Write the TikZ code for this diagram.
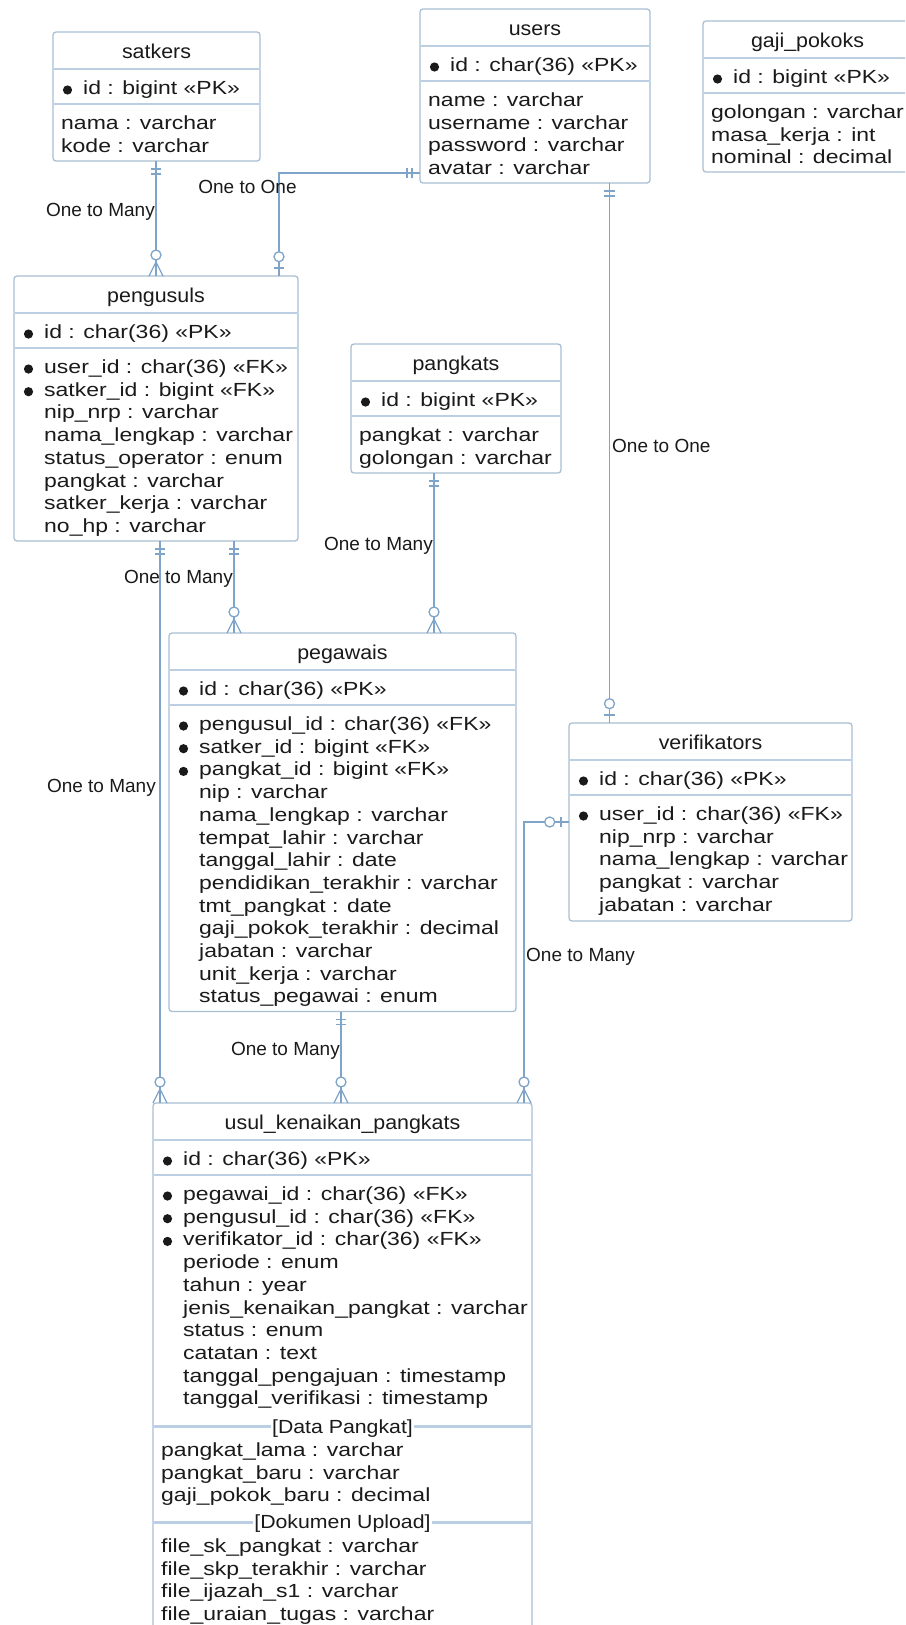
\documentclass[tikz,border=0pt]{standalone}
\usepackage{fontspec}
\setmainfont{Liberation Sans}
\newfontfamily\attrfont[FakeStretch=1.21]{Liberation Sans}
\newfontfamily\headfont[FakeStretch=1.07]{Liberation Sans}
\newfontfamily\secfont[FakeStretch=1.12]{Liberation Sans}
\usetikzlibrary{calc}

\definecolor{boxline}{HTML}{A9BFD4}
\definecolor{sepcol}{HTML}{BCCFE2}
\definecolor{conncol}{HTML}{7EA4C9}
\definecolor{txt}{HTML}{1A1A1A}

\tikzset{
  erbox/.style={draw=boxline, line width=1.3pt, fill=white, rounded corners=3pt,
    rectangle, inner sep=0pt, outer sep=0pt},
  sepl/.style={draw=sepcol, line width=2.6pt},
  ertitle/.style={anchor=base, inner sep=0pt, text=txt,
    font=\headfont\fontsize{20}{24}\selectfont},
  attr/.style={anchor=base west, inner sep=0pt, text=txt,
    font=\attrfont\fontsize{19}{22}\selectfont},
  sechead/.style={anchor=base, inner xsep=1pt, inner ysep=0pt, fill=white, text=txt,
    font=\secfont\fontsize{19}{22}\selectfont},
  rel/.style={inner sep=0pt, text=txt, font=\fontsize{19}{22}\selectfont},
  conn/.style={draw=conncol, line width=1.3pt},
  pics/mone/.style={code={\draw[conn] (8,-5.3) -- (8,5.3) (13,-5.3) -- (13,5.3);}},
  pics/zmany/.style={code={\draw[conn] (0,-7) -- (14,0) -- (0,7);
    \draw[conn, fill=white] (21,0) circle[radius=5pt];}},
  pics/zone/.style={code={\draw[conn] (8,-5.3) -- (8,5.3);
    \draw[conn, fill=white] (19.3,0) circle[radius=5pt];}},
}

% table frame: name, left, right, top, bottom, title
\newcommand\erframe[6]{%
  \node[erbox, minimum width={(#3-#2)*1pt}, minimum height={(#5-#4)*1pt}]
    (#1) at ({(#2+#3)/2},{(#4+#5)/2}) {};
  \draw[sepl] (#2+0.8,#4+37) -- (#3-0.8,#4+37);
  \draw[sepl] (#2+0.8,#4+72) -- (#3-0.8,#4+72);
  \node[ertitle] (#1-t) at ({(#2+#3)/2},#4+26) {#6};
}
% primary key row: name, left, top, text
\newcommand\pkrow[4]{%
  \fill[txt] (#2+14.5,#3+58) circle[radius=4.6pt];
  \node[attr] (#1) at (#2+30,#3+62.5) {#4};
}
% plain field: name, x, section start, index, text
\newcommand\frow[5]{%
  \node[attr] (#1) at (#2,{#3+25.5+(#4-1)*22.7}) {#5};
}
% key field with bullet
\newcommand\fkrow[5]{%
  \fill[txt] (#2-15.5,{#3+21+(#4-1)*22.7}) circle[radius=4.6pt];
  \frow{#1}{#2}{#3}{#4}{#5}%
}

\begin{document}
\begin{tikzpicture}[x=1pt, y=-1pt]
\useasboundingbox (0,0) rectangle (905,1625);
\clip (0,0) rectangle (905,1625);

% ---------- satkers ----------
\erframe{satkers}{53}{260}{32}{161}{satkers}
\pkrow{sat-pk}{53}{32}{id : bigint «PK»}
\frow{sat-1}{61}{104}{1}{nama : varchar}
\frow{sat-2}{61}{104}{2}{kode : varchar}

% ---------- users ----------
\erframe{users}{420}{650}{9}{183}{users}
\pkrow{usr-pk}{420}{9}{id : char(36) «PK»}
\frow{usr-1}{428}{81}{1}{name : varchar}
\frow{usr-2}{428}{81}{2}{username : varchar}
\frow{usr-3}{428}{81}{3}{password : varchar}
\frow{usr-4}{428}{81}{4}{avatar : varchar}

% ---------- gaji_pokoks ----------
\erframe{gaji}{703}{912}{21}{172}{gaji\_pokoks}
\pkrow{gaj-pk}{703}{21}{id : bigint «PK»}
\frow{gaj-1}{711}{93}{1}{golongan : varchar}
\frow{gaj-2}{711}{93}{2}{masa\_kerja : int}
\frow{gaj-3}{711}{93}{3}{nominal : decimal}

% ---------- pengusuls ----------
\erframe{pengusuls}{14}{298}{276}{541}{pengusuls}
\pkrow{pgs-pk}{14}{276}{id : char(36) «PK»}
\fkrow{pgs-1}{44}{348}{1}{user\_id : char(36) «FK»}
\fkrow{pgs-2}{44}{348}{2}{satker\_id : bigint «FK»}
\frow{pgs-3}{44}{348}{3}{nip\_nrp : varchar}
\frow{pgs-4}{44}{348}{4}{nama\_lengkap : varchar}
\frow{pgs-5}{44}{348}{5}{status\_operator : enum}
\frow{pgs-6}{44}{348}{6}{pangkat : varchar}
\frow{pgs-7}{44}{348}{7}{satker\_kerja : varchar}
\frow{pgs-8}{44}{348}{8}{no\_hp : varchar}

% ---------- pangkats ----------
\erframe{pangkats}{351}{561}{344}{473}{pangkats}
\pkrow{pkt-pk}{351}{344}{id : bigint «PK»}
\frow{pkt-1}{359}{416}{1}{pangkat : varchar}
\frow{pkt-2}{359}{416}{2}{golongan : varchar}

% ---------- pegawais ----------
\erframe{pegawais}{169}{516}{633}{1011.5}{pegawais}
\pkrow{peg-pk}{169}{633}{id : char(36) «PK»}
\fkrow{peg-1}{199}{705}{1}{pengusul\_id : char(36) «FK»}
\fkrow{peg-2}{199}{705}{2}{satker\_id : bigint «FK»}
\fkrow{peg-3}{199}{705}{3}{pangkat\_id : bigint «FK»}
\frow{peg-4}{199}{705}{4}{nip : varchar}
\frow{peg-5}{199}{705}{5}{nama\_lengkap : varchar}
\frow{peg-6}{199}{705}{6}{tempat\_lahir : varchar}
\frow{peg-7}{199}{705}{7}{tanggal\_lahir : date}
\frow{peg-8}{199}{705}{8}{pendidikan\_terakhir : varchar}
\frow{peg-9}{199}{705}{9}{tmt\_pangkat : date}
\frow{peg-10}{199}{705}{10}{gaji\_pokok\_terakhir : decimal}
\frow{peg-11}{199}{705}{11}{jabatan : varchar}
\frow{peg-12}{199}{705}{12}{unit\_kerja : varchar}
\frow{peg-13}{199}{705}{13}{status\_pegawai : enum}

% ---------- verifikators ----------
\erframe{verif}{569}{852}{723}{921}{verifikators}
\pkrow{ver-pk}{569}{723}{id : char(36) «PK»}
\fkrow{ver-1}{599}{795}{1}{user\_id : char(36) «FK»}
\frow{ver-2}{599}{795}{2}{nip\_nrp : varchar}
\frow{ver-3}{599}{795}{3}{nama\_lengkap : varchar}
\frow{ver-4}{599}{795}{4}{pangkat : varchar}
\frow{ver-5}{599}{795}{5}{jabatan : varchar}

% ---------- usul_kenaikan_pangkats ----------
\erframe{usul}{153}{532}{1103}{1680}{usul\_kenaikan\_pangkats}
\pkrow{usl-pk}{153}{1103}{id : char(36) «PK»}
\fkrow{usl-1}{183}{1175}{1}{pegawai\_id : char(36) «FK»}
\fkrow{usl-2}{183}{1175}{2}{pengusul\_id : char(36) «FK»}
\fkrow{usl-3}{183}{1175}{3}{verifikator\_id : char(36) «FK»}
\frow{usl-4}{183}{1175}{4}{periode : enum}
\frow{usl-5}{183}{1175}{5}{tahun : year}
\frow{usl-6}{183}{1175}{6}{jenis\_kenaikan\_pangkat : varchar}
\frow{usl-7}{183}{1175}{7}{status : enum}
\frow{usl-8}{183}{1175}{8}{catatan : text}
\frow{usl-9}{183}{1175}{9}{tanggal\_pengajuan : timestamp}
\frow{usl-10}{183}{1175}{10}{tanggal\_verifikasi : timestamp}
% section: Data Pangkat
\draw[sepl] (153.8,1426.5) -- (531.2,1426.5);
\node[sechead] (usl-s1) at (342.5,1433) {[Data Pangkat]};
\frow{usl-11}{161}{1431}{1}{pangkat\_lama : varchar}
\frow{usl-12}{161}{1431}{2}{pangkat\_baru : varchar}
\frow{usl-13}{161}{1431}{3}{gaji\_pokok\_baru : decimal}
% section: Dokumen Upload
\draw[sepl] (153.8,1522.3) -- (531.2,1522.3);
\node[sechead] (usl-s2) at (342.5,1528.8) {[Dokumen Upload]};
\frow{usl-14}{161}{1526.8}{1}{file\_sk\_pangkat : varchar}
\frow{usl-15}{161}{1526.8}{2}{file\_skp\_terakhir : varchar}
\frow{usl-16}{161}{1526.8}{3}{file\_ijazah\_s1 : varchar}
\frow{usl-17}{161}{1526.8}{4}{file\_uraian\_tugas : varchar}

% ---------- relationship routes ----------
\coordinate (cA) at (156,0);
\coordinate (cB) at (0,173);
\coordinate (cC) at (279,0);
\coordinate (cD) at (609.5,0);
\coordinate (cE) at (234,0);
\coordinate (cF) at (160,0);
\coordinate (cG) at (434,0);
\coordinate (cH) at (524,0);
\coordinate (cJ) at (341,0);

\draw[conn] (satkers.south -| cA) -- (pengusuls.north -| cA);
\draw[conn] (users.west |- cB) -| (pengusuls.north -| cC);
\draw[conn] (users.south -| cD) -- (verif.north -| cD);
\draw[conn] (pengusuls.south -| cE) -- (pegawais.north -| cE);
\draw[conn] (pengusuls.south -| cF) -- (usul.north -| cF);
\draw[conn] (pangkats.south -| cG) -- (pegawais.north -| cG);
\draw[conn] (pegawais.south -| cJ) -- (usul.north -| cJ);
\draw[conn] (usul.north -| cH) |- (verif.west);

% cardinality marks
\pic[rotate=-90] at (satkers.south -| cA) {mone};
\pic[rotate=90] at (pengusuls.north -| cA) {zmany};
\pic[rotate=180] at (users.west |- cB) {mone};
\pic[rotate=90] at (pengusuls.north -| cC) {zone};
\pic[rotate=-90] at (users.south -| cD) {mone};
\pic[rotate=90] at (verif.north -| cD) {zone};
\pic[rotate=-90] at (pengusuls.south -| cE) {mone};
\pic[rotate=90] at (pegawais.north -| cE) {zmany};
\pic[rotate=-90] at (pengusuls.south -| cF) {mone};
\pic[rotate=90] at (usul.north -| cF) {zmany};
\pic[rotate=-90] at (pangkats.south -| cG) {mone};
\pic[rotate=90] at (pegawais.north -| cG) {zmany};
\pic[rotate=-90] at (pegawais.south -| cJ) {mone};
\pic[rotate=90] at (usul.north -| cJ) {zmany};
\pic[rotate=180] at (verif.west) {zone};
\pic[rotate=90] at (usul.north -| cH) {zmany};

% relationship labels
\node[rel, anchor=base east] (lab1) at (155,216.5) {One to Many};
\node[rel, anchor=base] (lab2) at (247.5,193.5) {One to One};
\node[rel, anchor=base west] (lab3) at (612,452.5) {One to One};
\node[rel, anchor=base east] (lab4) at (233,583.5) {One to Many};
\node[rel, anchor=base east] (lab5) at (156,792.5) {One to Many};
\node[rel, anchor=base east] (lab6) at (433,550.5) {One to Many};
\node[rel, anchor=base east] (lab7) at (340,1055.5) {One to Many};
\node[rel, anchor=base west] (lab8) at (526,961.5) {One to Many};
\end{tikzpicture}
\end{document}
